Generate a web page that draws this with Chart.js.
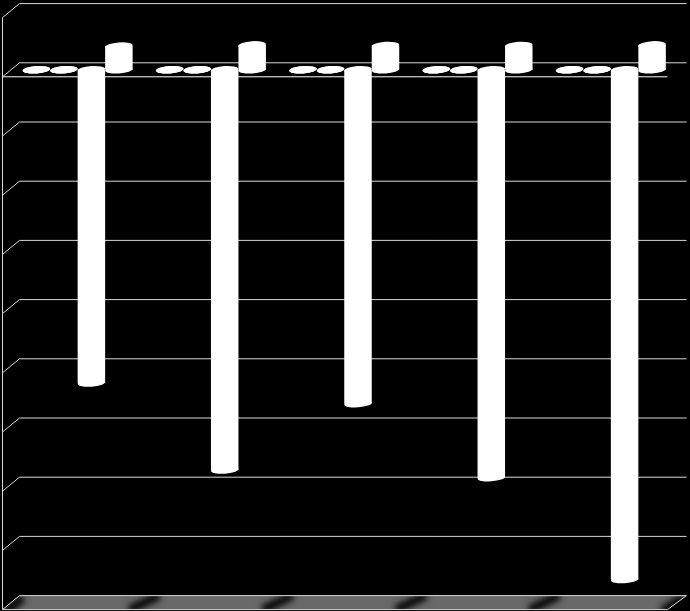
<!DOCTYPE html>
<html>
<head>
<meta charset="utf-8">
<style>
  html, body { margin: 0; padding: 0; background: #000; }
  canvas { display: block; }
</style>
<script src="https://cdn.jsdelivr.net/npm/chart.js@4"></script>
</head>
<body>
<canvas id="myChart" width="690" height="611"></canvas>
<script>
const categories = ['1', '2', '3', '4', '5']
const series1 = [0, 0, 0, 0, 0]
const series2 = [0, 0, 0, 0, 0]
const series3 = [-5.29, -6.76, -5.64, -6.89, -8.61]
const series4 = [0.40, 0.42, 0.41, 0.41, 0.42]
const gridTicks = [1, 0, -1, -2, -3, -4, -5, -6, -7, -8, -9]

// fake 3d box: the bars stand in the middle of a box this deep
const depthX = 17
const depthY = 14
const capRy = 3.7
const capTilt = -0.07
// the bars' own axis sits half a box depth below the back wall
const barShift = 0.118

let wallPlugin = {
  id: 'wall',
  beforeDatasetsDraw(chart) {
    const ctx = chart.ctx
    const area = chart.chartArea
    const y = chart.scales.y
    const x = chart.scales.x
    const backL = area.left + depthX / 2
    const backR = area.right + depthX / 2 + 0.5
    const frontL = backL - depthX
    const frontR = backR - depthX - 2
    const floorBack = y.getPixelForValue(-9)
    const floorFront = floorBack + depthY

    // floor
    ctx.save()
    ctx.beginPath()
    ctx.moveTo(frontL, floorFront)
    ctx.lineTo(backL, floorBack)
    ctx.lineTo(backR, floorBack)
    ctx.lineTo(frontR, floorFront)
    ctx.closePath()
    ctx.fillStyle = '#686868'
    ctx.fill()
    ctx.clip()
    // dark smudges on the floor between the groups and at both ends
    ctx.filter = 'blur(3px)'
    ctx.strokeStyle = '#000000'
    ctx.lineWidth = 8
    categories.forEach((c, i) => {
      if (i === 0) return
      const mid = (x.getPixelForValue(i - 1) + x.getPixelForValue(i)) / 2
      ctx.beginPath()
      ctx.moveTo(mid - depthX + 2, floorFront)
      ctx.lineTo(mid + depthX - 2, floorBack)
      ctx.stroke()
    })
    ctx.lineWidth = 9
    ctx.beginPath()
    ctx.moveTo(frontL + 3, floorFront + 2)
    ctx.lineTo(backL + 3, floorBack + 2)
    ctx.stroke()
    ctx.beginPath()
    ctx.moveTo(frontR - 5, floorFront + 2)
    ctx.lineTo(backR - 3, floorBack + 2)
    ctx.stroke()
    ctx.restore()

    ctx.save()
    ctx.lineWidth = 1
    ctx.strokeStyle = '#d8d8d8'
    gridTicks.forEach(t => {
      const py = y.getPixelForValue(t)
      ctx.beginPath()
      ctx.moveTo(frontL, py + depthY)
      ctx.lineTo(backL, py)
      ctx.lineTo(backR, py)
      ctx.stroke()
    })
    // left edge, front of floor, front zero line
    ctx.beginPath()
    ctx.moveTo(frontL, y.getPixelForValue(1) + depthY)
    ctx.lineTo(frontL, floorFront)
    ctx.lineTo(frontR, floorFront)
    ctx.lineTo(backR, floorBack)
    ctx.stroke()
    ctx.strokeStyle = '#ffffff'
    ctx.beginPath()
    ctx.moveTo(frontL, y.getPixelForValue(0) + depthY)
    ctx.lineTo(frontR, y.getPixelForValue(0) + depthY)
    ctx.stroke()
    ctx.restore()
  },
  // round ends of the cylinders
  afterDatasetsDraw(chart) {
    const ctx = chart.ctx
    ctx.save()
    ctx.fillStyle = '#ffffff'
    chart.data.datasets.forEach((ds, i) => {
      chart.getDatasetMeta(i).data.forEach(bar => {
        [bar.base, bar.y].forEach(py => {
          ctx.beginPath()
          ctx.ellipse(bar.x, py, bar.width / 2, capRy, capTilt, 0, Math.PI * 2)
          ctx.fill()
        })
      })
    })
    ctx.restore()
  }
}

const makeSeries = values => ({
  data: values,
  yAxisID: 'yBars',
  backgroundColor: '#ffffff',
  borderWidth: 0,
  categoryPercentage: 0.825,
  barPercentage: 1
})

let myChart = new Chart(document.getElementById('myChart'), {
  type: 'bar',
  data: {
    labels: categories,
    datasets: [series1, series2, series3, series4].map(makeSeries)
  },
  plugins: [wallPlugin],
  options: {
    responsive: false,
    animation: false,
    devicePixelRatio: 1,
    layout: { padding: { left: 11, right: 12.5, top: 3.6, bottom: 15.4 } },
    plugins: { legend: { display: false }, tooltip: { enabled: false } },
    scales: {
      x: { display: false },
      y: { display: false, min: -9, max: 1 },
      yBars: { display: false, min: -9 + barShift, max: 1 + barShift }
    }
  }
})
</script>
</body>
</html>
